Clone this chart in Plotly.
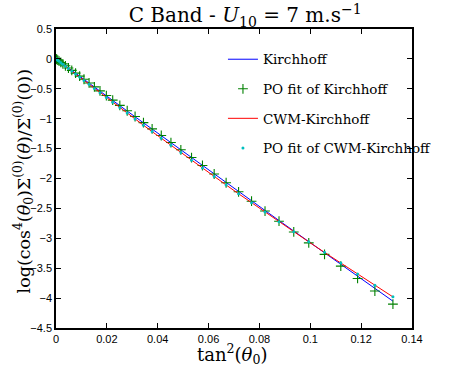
import plotly.graph_objects as go

# tan^2(theta0) sampled every 0.5 degree from 0 to 20 degrees
tan2_theta = [0, 0.0001, 0.0003, 0.0007, 0.0012, 0.0019, 0.0027, 0.0037, 0.0049, 0.0062,
              0.0077, 0.0093, 0.0110, 0.0130, 0.0151, 0.0173, 0.0198, 0.0223, 0.0251, 0.0280,
              0.0311, 0.0344, 0.0378, 0.0414, 0.0452, 0.0491, 0.0533, 0.0576, 0.0622, 0.0669,
              0.0718, 0.0769, 0.0822, 0.0877, 0.0935, 0.0994, 0.1056, 0.1120, 0.1186, 0.1254,
              0.1325]

kirchhoff = [0, -0.003, -0.009, -0.022, -0.038, -0.059, -0.085, -0.116, -0.153, -0.194,
             -0.241, -0.291, -0.343, -0.406, -0.471, -0.540, -0.618, -0.695, -0.782, -0.872,
             -0.968, -1.070, -1.175, -1.286, -1.404, -1.524, -1.653, -1.785, -1.926, -2.069,
             -2.219, -2.375, -2.536, -2.703, -2.878, -3.057, -3.244, -3.437, -3.635, -3.839,
             -4.051]

po_kirchhoff = [0, -0.003, -0.009, -0.022, -0.037, -0.059, -0.084, -0.115, -0.152, -0.192,
                -0.238, -0.288, -0.340, -0.402, -0.467, -0.535, -0.613, -0.690, -0.777, -0.867,
                -0.963, -1.065, -1.170, -1.281, -1.399, -1.520, -1.650, -1.783, -1.925, -2.071,
                -2.222, -2.380, -2.544, -2.714, -2.894, -3.076, -3.268, -3.466, -3.671, -3.881,
                -4.101]

cwm_kirchhoff = [0, -0.003, -0.010, -0.023, -0.040, -0.063, -0.089, -0.122, -0.161, -0.204,
                 -0.253, -0.305, -0.361, -0.426, -0.494, -0.565, -0.645, -0.725, -0.815, -0.907,
                 -1.005, -1.109, -1.216, -1.328, -1.447, -1.567, -1.696, -1.827, -1.967, -2.108,
                 -2.255, -2.406, -2.562, -2.723, -2.891, -3.060, -3.236, -3.416, -3.600, -3.787,
                 -3.980]

po_cwm = [0, -0.003, -0.010, -0.023, -0.040, -0.063, -0.089, -0.122, -0.161, -0.203,
          -0.252, -0.304, -0.360, -0.425, -0.493, -0.564, -0.644, -0.724, -0.814, -0.906,
          -1.004, -1.108, -1.215, -1.327, -1.446, -1.566, -1.695, -1.826, -1.966, -2.107,
          -2.254, -2.405, -2.561, -2.722, -2.890, -3.059, -3.235, -3.415, -3.599, -3.786,
          -3.979]

x_ticks = [0, 0.02, 0.04, 0.06, 0.08, 0.1, 0.12, 0.14]
x_tick_labels = ["0", "0.02", "0.04", "0.06", "0.08", "0.1", "0.12", "0.14"]
y_ticks = [0.5, 0, -0.5, -1, -1.5, -2, -2.5, -3, -3.5, -4, -4.5]
y_tick_labels = ["0.5", "0", "\u22120.5", "\u22121", "\u22121.5", "\u22122", "\u22122.5",
                 "\u22123", "\u22123.5", "\u22124", "\u22124.5"]

SERIF = "DejaVu Serif, Liberation Serif, serif"
SANS = "Liberation Sans, Arial, sans-serif"

fig = go.Figure()
fig.add_trace(go.Scatter(x=tan2_theta, y=kirchhoff, mode="lines", name="Kirchhoff",
                         legendgroup="a", line=dict(color="#0000ff", width=1)))
fig.add_trace(go.Scatter(x=tan2_theta, y=po_kirchhoff, mode="markers", name="PO fit of Kirchhoff",
                         legendgroup="b",
                         marker=dict(symbol="cross-thin", size=7, color="#008000",
                                     line=dict(color="#008000", width=1.1))))
fig.add_trace(go.Scatter(x=tan2_theta, y=cwm_kirchhoff, mode="lines", name="CWM-Kirchhoff",
                         legendgroup="c", line=dict(color="#ff0000", width=1)))
fig.add_trace(go.Scatter(x=tan2_theta, y=po_cwm, mode="markers", name="PO fit of CWM-Kirchhoff",
                         legendgroup="d",
                         marker=dict(symbol="circle", size=3, color="#00bfbf")))

axis_common = dict(showline=True, linecolor="black", linewidth=1.5, mirror="ticks",
                   ticks="inside", ticklen=5, tickwidth=1, tickcolor="black",
                   showgrid=False, zeroline=False, automargin=False,
                   tickfont=dict(family=SANS, size=11, color="black"))

fig.update_xaxes(range=[0, 0.14], tickvals=x_ticks, ticktext=x_tick_labels, **axis_common)
fig.update_yaxes(range=[-4.5, 0.5], tickvals=y_ticks, ticktext=y_tick_labels, **axis_common)

fig.update_layout(
    width=449, height=368,
    margin=dict(l=56, r=13, t=29, b=40),
    paper_bgcolor="white", plot_bgcolor="white",
    title=dict(text="C Band - <i>U</i><sub>10</sub> = 7 m.s<sup>\u22121</sup>",
               font=dict(family=SERIF, size=20, color="black"),
               x=0.546, xanchor="center", yref="container", y=0.958, yanchor="middle"),
    legend=dict(x=0.469, xanchor="left", y=0.95, yanchor="top",
                traceorder="grouped", tracegroupgap=9, itemwidth=30,
                bgcolor="rgba(0,0,0,0)", borderwidth=0,
                font=dict(family=SERIF, size=13.5, color="black")),
    annotations=[
        dict(text="tan<sup>2</sup>(<i>θ</i><sub>0</sub>)", xref="paper", yref="paper",
             x=0.497, y=-0.086, xanchor="center", yanchor="middle", showarrow=False,
             font=dict(family=SERIF, size=18, color="black")),
        dict(text="log(cos<sup>4</sup>(<i>θ</i><sub>0</sub>)Σ<sup>(0)</sup>(<i>θ</i>)/Σ<sup>(0)</sup>(0))",
             xref="paper", yref="paper", x=-0.09, y=0.49, xanchor="center", yanchor="middle",
             textangle=-90, showarrow=False,
             font=dict(family=SERIF, size=17.5, color="black")),
    ],
)

fig.write_html("out.html", config={"displayModeBar": False})

# remove the browser's default page margin so the figure fills the window exactly
with open("out.html", "r", encoding="utf-8") as f:
    html = f.read()
html = html.replace("<body>", '<body style="margin:0;padding:0;overflow:hidden">', 1)
with open("out.html", "w", encoding="utf-8") as f:
    f.write(html)
